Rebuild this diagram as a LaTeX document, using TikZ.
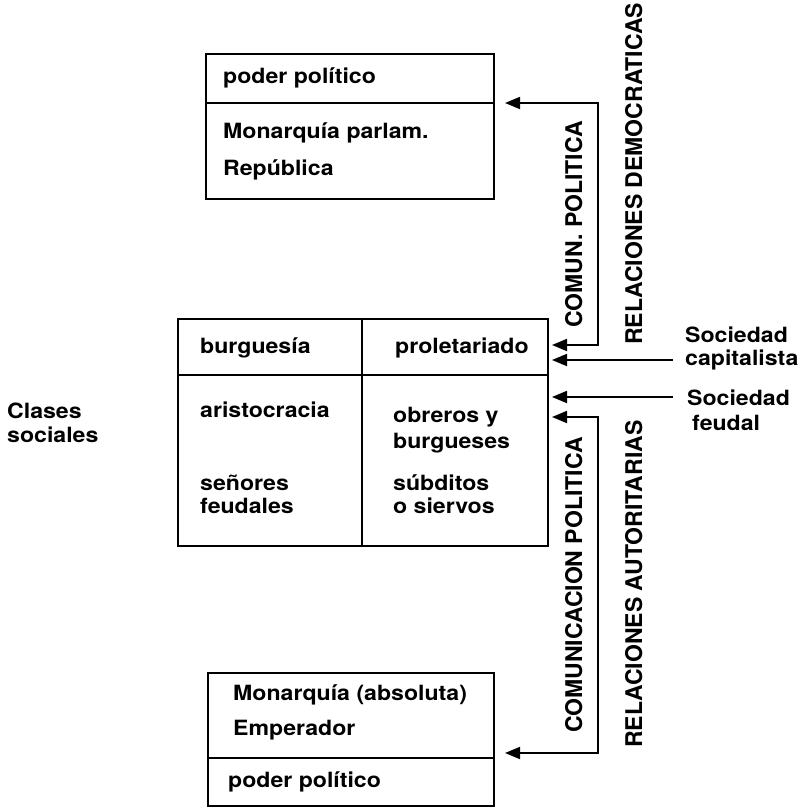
\documentclass[tikz,border=0pt]{standalone}
\usepackage{fontspec}
\setmainfont{TeX Gyre Heros}[FakeStretch=1.1]
\newfontfamily\rotfont{TeX Gyre Heros}
\usetikzlibrary{arrows.meta}
\tikzset{
    caja/.style={draw, line width=1.8pt, inner sep=0pt, anchor=north west},
    texto/.style={anchor=base west, inner sep=0pt, font=\bfseries\fontsize{21}{25}\selectfont},
    vertical/.style={anchor=base west, inner sep=0pt, rotate=90, font=\rotfont\bfseries\fontsize{23}{27}\selectfont},
    linea/.style={line width=1.8pt},
    flecha/.style={line width=1.8pt, -{Triangle[length=15pt,width=12pt]}},
    doble/.style={line width=1.8pt, {Triangle[length=15pt,width=12pt]}-{Triangle[length=15pt,width=12pt]}}
}
\begin{document}
\begin{tikzpicture}[x=1pt, y=-1pt]
          \useasboundingbox (0,0) rectangle (807,808);
          \node [caja, minimum width=288pt, minimum height=145pt] (demo) at (205,53) {};
          \draw [linea] (205,103) -- (493,103);
          \node [texto] (pp1) at (223,83) {poder político};
          \node [texto] (mp) at (223,138) {Monarquía parlam.};
          \node [texto] (rep) at (223,175) {República};
          \node [caja, minimum width=370pt, minimum height=227pt] (clases) at (177,318) {};
          \draw [linea] (177,375) -- (547,375);
          \draw [linea] (362,318) -- (362,545);
          \node [texto] (burg) at (200,353) {burguesía};
          \node [texto] (prol) at (395,353) {proletariado};
          \node [texto] (aris) at (200,417) {aristocracia};
          \node [texto] (obr1) at (393,422) {obreros y};
          \node [texto] (obr2) at (393,448) {burgueses};
          \node [texto] (sen1) at (200,490) {señores};
          \node [texto] (sen2) at (200,513) {feudales};
          \node [texto] (sub1) at (393,490) {súbditos};
          \node [texto] (sub2) at (393,513) {o siervos};
          \node [caja, minimum width=286pt, minimum height=133pt] (auto) at (207,672) {};
          \draw [linea] (207,758) -- (493,758);
          \node [texto] (mabs) at (233,700) {Monarquía (absoluta)};
          \node [texto] (emp) at (233,735) {Emperador};
          \node [texto] (pp2) at (228,787) {poder político};
          \node [texto] (cl1) at (7,418) {Clases};
          \node [texto] (cl2) at (7,442) {sociales};
          \node [texto] (sc1) at (685,342) {Sociedad};
          \node [texto] (sc2) at (685,365) {capitalista};
          \node [texto] (sf1) at (687,405) {Sociedad};
          \node [texto] (sf2) at (692,430) {feudal};
          \node [vertical] (rd) at (642,345) {RELACIONES DEMOCRATICAS};
          \node [vertical] (cp) at (582,328) {COMUN. POLITICA};
          \node [vertical] (ra) at (642,748) {RELACIONES AUTORITARIAS};
          \node [vertical] (cpa) at (582,733) {COMUNICACION POLITICA};
          \coordinate (pd) at (505,103);
          \coordinate (v2) at (598,345);
          \coordinate (c1) at (552,345);
          \coordinate (c2) at (552,360);
          \coordinate (c3) at (552,397);
          \coordinate (c4) at (552,417);
          \coordinate (v4) at (598,753);
          \coordinate (ad) at (505,753);
          \coordinate (s1) at (673,360);
          \coordinate (s2) at (673,397);
          \draw [doble] (pd) -| (v2) -- (c1);
          \draw [doble] (c4) -| (v4) -- (ad);
          \draw [flecha] (s1) -- (c2);
          \draw [flecha] (s2) -- (c3);
        \end{tikzpicture}
\end{document}
